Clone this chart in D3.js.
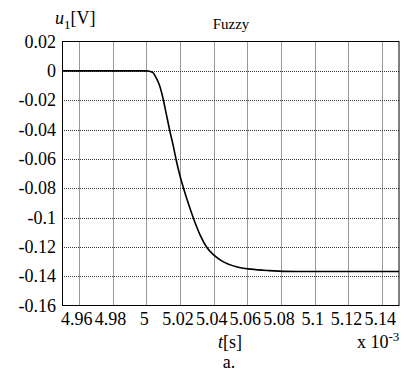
<!DOCTYPE html>
<html><head><meta charset="utf-8">
<script src="https://cdn.jsdelivr.net/npm/d3@7"></script>
<style>body{margin:0;background:#fff}svg{display:block}</style>
</head><body><svg id="c" width="406" height="374" font-family="'Liberation Serif', 'DejaVu Serif', serif"></svg>
<script>
const timeMs = [4.95, 4.98, 5.0, 5.002, 5.004, 5.006, 5.008, 5.010, 5.012, 5.014, 5.016, 5.018, 5.020, 5.022, 5.025, 5.028, 5.032, 5.036, 5.040, 5.045, 5.054, 5.062, 5.073, 5.09, 5.15];
const voltage = [0, 0, 0, -0.0003, -0.0012, -0.005, -0.0103, -0.019, -0.030, -0.041, -0.051, -0.062, -0.0715, -0.0795, -0.0905, -0.1005, -0.112, -0.1205, -0.1255, -0.1297, -0.1337, -0.1352, -0.1362, -0.1368, -0.1368];
const xTicks = [4.96, 4.98, 5, 5.02, 5.04, 5.06, 5.08, 5.1, 5.12, 5.14];
const yTicks = [0.02, 0, -0.02, -0.04, -0.06, -0.08, -0.1, -0.12, -0.14, -0.16];

const L = 62, R = 399, T = 41.5, B = 305.5;
const svg = d3.select("#c");
const x = d3.scaleLinear().domain([4.95, 5.15]).range([L, R]);
const y = d3.scaleLinear().domain([-0.16, 0.02]).range([B, T]);
const FF = "'Liberation Serif', 'DejaVu Serif', serif";

// grid
const g = svg.append("g");
g.selectAll(".vx").data(xTicks).join("line")
  .attr("x1", d => Math.round(x(d)) + 0.5).attr("x2", d => Math.round(x(d)) + 0.5)
  .attr("y1", T).attr("y2", B)
  .attr("stroke", "#333").attr("stroke-width", 1).attr("stroke-dasharray", "1,1");
g.selectAll(".hy").data(yTicks.filter(d => d > -0.16 && d < 0.02)).join("line")
  .attr("y1", d => Math.round(y(d)) + 0.5).attr("y2", d => Math.round(y(d)) + 0.5)
  .attr("x1", L).attr("x2", R)
  .attr("stroke", "#333").attr("stroke-width", 1).attr("stroke-dasharray", "1,1");

// frame
svg.append("rect").attr("x", L + 0.5).attr("y", T).attr("width", R - L - 0.5).attr("height", B - T)
  .attr("fill", "none").attr("stroke", "#000").attr("stroke-width", 1);

// axes tick labels
const fmt = d => String(+d.toFixed(2));
svg.append("g").selectAll("text").data(yTicks).join("text")
  .attr("font-family", FF)
  .attr("x", L - 6).attr("y", d => y(d) + 6)
  .attr("text-anchor", "end").attr("font-size", 18).text(d => fmt(d));
svg.append("g").selectAll("text").data(xTicks).join("text")
  .attr("font-family", FF)
  .attr("x", d => x(d) - 2).attr("y", 325)
  .attr("text-anchor", "middle").attr("font-size", 18).text(d => fmt(d));

// curve
const line = d3.line().x((d, i) => x(timeMs[i])).y(d => y(d)).curve(d3.curveMonotoneX);
svg.append("path").datum(voltage).attr("d", line)
  .attr("fill", "none").attr("stroke", "#000").attr("stroke-width", 1.6);

// labels
const yl = svg.append("text").attr("font-family", FF).attr("x", 55).attr("y", 24).attr("font-size", 18);
yl.append("tspan").attr("font-style", "italic").text("u");
yl.append("tspan").attr("font-size", 13).attr("dy", 5).text("1");
yl.append("tspan").attr("dy", -5).text("[V]");

svg.append("text").attr("font-family", FF).attr("x", 231).attr("y", 29).attr("text-anchor", "middle").attr("font-size", 15).text("Fuzzy");

const xl = svg.append("text").attr("font-family", FF).attr("x", 230).attr("y", 348).attr("text-anchor", "middle").attr("font-size", 18);
xl.append("tspan").attr("font-style", "italic").text("t");
xl.append("tspan").text("[s]");

const ex = svg.append("text").attr("font-family", FF).attr("x", 357).attr("y", 348).attr("font-size", 18);
ex.append("tspan").text("x 10");
ex.append("tspan").attr("font-size", 13).attr("dy", -7).text("-3");

svg.append("text").attr("font-family", FF).attr("x", 229).attr("y", 368).attr("text-anchor", "middle").attr("font-size", 18).text("a.");
</script></body></html>
